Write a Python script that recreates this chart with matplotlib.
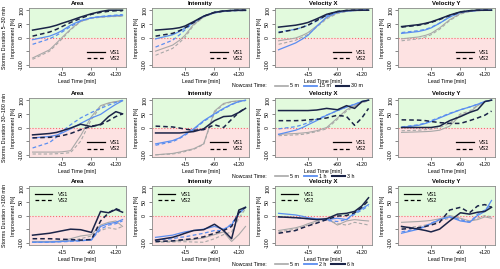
import numpy as np
import matplotlib.pyplot as plt
from matplotlib.lines import Line2D

plt.rcParams['font.family'] = ['Liberation Sans', 'DejaVu Sans']

lead = [0, 5, 10, 15, 25, 40, 60, 80, 100, 120, 140]

# each panel: [short VS1, short VS2, mid VS1, mid VS2, long VS1, long VS2]
r1_area = [[-75, -45, -20, 0, 30, 60, 72, 75, 77, 78, 79],
           [-80, -50, -25, -5, 28, 58, 70, 74, 76, 77, 78],
           [-8, 5, 15, 25, 45, 62, 72, 76, 78, 80, 82],
           [-25, -5, 8, 20, 40, 60, 72, 77, 80, 82, 84],
           [27, 38, 45, 52, 62, 75, 87, 95, 100, 100, 100],
           [5, 20, 30, 40, 55, 70, 85, 92, 96, 98, 98]]
r1_int = [[-50, -28, -10, 8, 48, 75, 90, 95, 98, 98, 98],
          [-65, -40, -18, 0, 45, 75, 90, 95, 97, 98, 98],
          [-5, 10, 22, 35, 55, 78, 92, 97, 99, 99, 99],
          [-35, -10, 10, 28, 55, 78, 90, 96, 98, 99, 99],
          [27, 32, 36, 42, 58, 78, 92, 97, 99, 100, 100],
          [5, 15, 25, 35, 55, 78, 92, 97, 99, 100, 100]]
r1_vx = [[-12, -2, 8, 18, 42, 72, 90, 96, 98, 99, 99],
         [-25, -10, 2, 12, 38, 68, 88, 95, 98, 99, 99],
         [-45, -20, -5, 8, 40, 75, 92, 97, 99, 100, 100],
         [20, 30, 38, 45, 60, 80, 93, 98, 99, 100, 100],
         [38, 45, 50, 55, 68, 85, 95, 99, 100, 100, 100],
         [18, 30, 38, 45, 62, 82, 95, 99, 100, 100, 100]]
r1_vy = [[-5, 2, 8, 15, 35, 65, 88, 95, 98, 99, 99],
         [-12, -5, 2, 10, 30, 62, 86, 95, 98, 99, 99],
         [15, 22, 28, 35, 52, 75, 92, 97, 99, 100, 100],
         [18, 25, 30, 37, 53, 75, 92, 97, 99, 100, 100],
         [40, 47, 52, 57, 68, 82, 94, 98, 100, 100, 100],
         [38, 45, 50, 55, 66, 80, 93, 98, 100, 100, 100]]

r2_area = [[-90, -90, -90, -89, -85, -30, 40, 80, 90, 95, 98],
           [-97, -97, -96, -95, -92, -50, 30, 75, 88, 95, 98],
           [-38, -33, -28, -20, -5, 15, 35, 48, 68, 85, 98],
           [-75, -55, -35, -15, 10, 35, 55, 70, 82, 92, 100],
           [-27, -22, -18, -12, -2, 12, 3, 12, 40, 58, 50],
           [-38, -36, -33, -30, -22, -8, 5, 10, 25, 40, 50]]
r2_int = [[-100, -95, -90, -85, -78, -60, 60, 88, 95, 98, 99],
          [-100, -97, -93, -88, -80, -62, 55, 85, 94, 97, 99],
          [-60, -48, -38, -25, -5, 25, 50, 70, 85, 95, 100],
          [-65, -52, -40, -28, -8, 22, 48, 68, 84, 94, 99],
          [-20, -20, -20, -18, -15, -5, 25, 40, 42, 55, 70],
          [5, 2, -2, -6, -10, -8, 10, 0, 30, 55, 72]]
r2_vx = [[-25, -22, -20, -18, -12, 0, 35, 65, 80, 92, 100],
         [-30, -27, -25, -22, -15, -5, 30, 60, 78, 90, 98],
         [-25, -10, 0, 10, 25, 45, 62, 75, 85, 95, 100],
         [-5, 3, 10, 18, 30, 45, 62, 75, 85, 95, 100],
         [62, 62, 62, 62, 64, 70, 65, 80, 70, 95, 100],
         [25, 25, 26, 28, 30, 35, 45, 40, 8, 35, 70]]
r2_vy = [[-18, -16, -15, -14, -10, 5, 45, 55, 80, 95, 100],
         [-12, -10, -8, -6, 0, 15, 50, 60, 82, 95, 100],
         [0, 8, 15, 22, 35, 50, 65, 75, 85, 95, 100],
         [2, 10, 17, 25, 37, 52, 65, 75, 85, 95, 100],
         [0, 0, 0, 0, 5, 25, 40, 55, 65, 95, 100],
         [28, 27, 25, 22, 18, 15, 15, 25, 35, 45, 60]]

r3_area = [[-95, -95, -94, -92, -85, -75, -70, -35, -25, -20, -40],
           [-98, -97, -96, -95, -92, -85, -75, -55, -45, -50, -40],
           [-98, -97, -96, -95, -93, -92, -90, -40, -30, -25, -15],
           [-98, -98, -97, -96, -95, -93, -88, -50, -35, -30, -20],
           [-72, -65, -60, -56, -50, -52, -62, 15, 10, 22, 12],
           [-85, -85, -86, -87, -88, -90, -88, -20, 10, 25, 15]]
r3_int = [[-96, -94, -92, -90, -88, -82, -70, -60, -95, -70, -40],
          [-98, -97, -96, -96, -97, -98, -85, -70, -60, -10, 25],
          [-80, -72, -65, -60, -55, -50, -40, -50, -35, 10, 30],
          [-90, -85, -80, -78, -72, -65, -55, -55, -30, 5, 30],
          [-90, -80, -72, -65, -55, -52, -32, -55, -85, 20, 30],
          [-95, -93, -90, -88, -85, -78, -65, -55, -40, 10, 30]]
r3_vx = [[-55, -45, -38, -30, -20, -10, -35, -20, -15, -18, -20],
         [-60, -50, -42, -35, -25, -15, -30, -35, -25, -30, -35],
         [8, 2, -3, -8, -12, -15, -10, -15, 10, 25, 40],
         [-5, -8, -10, -12, -14, -18, -22, -15, 5, 20, 35],
         [-5, -8, -10, -12, -15, -12, 5, 8, 15, 35, 65],
         [-65, -55, -45, -38, -28, -15, -2, 0, 10, 30, 55]]
r3_vy = [[-25, -22, -20, -18, -12, 0, -10, -20, -15, -5, -10],
         [-45, -40, -35, -30, -20, -10, -15, -22, -10, 0, -5],
         [-65, -50, -40, -30, -15, -5, -20, -25, 0, 15, 55],
         [-60, -48, -38, -28, -15, -5, -15, -25, 5, 20, 40],
         [-40, -50, -55, -60, -50, -20, 10, 5, 12, 15, 30],
         [-50, -45, -40, -35, -25, 20, 30, 10, 35, 40, 30]]

titles = ['Area', 'Intensity', 'Velocity X', 'Velocity Y']
row_labels = ['Storms Duration 5\u201330 min', 'Storms Duration 30\u2013180 min',
              'Storms Duration >180 min']
nowcast_labels = [['5 m', '15 m', '30 m'], ['5 m', '1 h', '3 h'], ['5 m', '2 h', '6 h']]
rows = [[r1_area, r1_int, r1_vx, r1_vy],
        [r2_area, r2_int, r2_vx, r2_vy],
        [r3_area, r3_int, r3_vx, r3_vy]]

colors = ['#a8a8a8', '#5b8ef0', '#1b2448']
widths = [0.8, 0.9, 1.1]
fs = 3.8


def fwd(x):
    x = np.asarray(x, dtype=float)
    return np.sign(x) * np.sqrt(np.abs(x))


def inv(x):
    x = np.asarray(x, dtype=float)
    return np.sign(x) * x ** 2


fig = plt.figure(figsize=(5, 2.69), dpi=100)
lefts = [29, 152, 275, 398]
bottoms = [67, 157, 245]
W, H = 97, 59

for r in range(3):
    for c in range(4):
        ax = fig.add_axes([lefts[c] / 500, 1 - bottoms[r] / 269, W / 500, H / 269])
        ax.axhspan(0, 120, color='#e2fadd', lw=0)
        ax.axhspan(-120, 0, color='#fde2e2', lw=0)
        ax.axhline(0, color='#f07070', ls=':', lw=0.8)
        data = rows[r][c]
        for k in range(3):
            ax.plot(lead, data[2 * k], color=colors[k], lw=widths[k])
            ax.plot(lead, data[2 * k + 1], color=colors[k], lw=widths[k], ls=(0, (3, 2)))
        ax.set_xscale('function', functions=(fwd, inv))
        ax.set_xlim(-0.22, 151)
        ax.set_ylim(-108, 108)
        ax.set_xticks([15, 60, 120])
        ax.set_xticklabels(['+15', '+60', '+120'], fontsize=fs)
        ax.set_yticks([-100, -50, 0, 50, 100])
        ax.set_yticklabels(['-100', '', '0', '50', '100'], fontsize=fs,
                           rotation=90, va='center')
        ax.tick_params(length=2, width=0.5, pad=1.5, color='#555555')
        for s in ax.spines.values():
            s.set_color('#8a8a8a')
            s.set_linewidth(0.6)
        ax.set_title(titles[c], fontsize=4.3, fontweight='bold', pad=2)
        ax.set_xlabel('Lead Time [min]', fontsize=fs, labelpad=1.5)
        ax.set_ylabel('Improvement [%]', fontsize=fs, labelpad=2)
        h = [Line2D([], [], color='black', lw=0.9),
             Line2D([], [], color='black', lw=0.9, ls=(0, (3, 2)))]
        ax.legend(h, ['VS1', 'VS2'], loc='lower right' if r < 2 else 'upper left',
                  frameon=False, fontsize=4, handlelength=3.2, handletextpad=1.0,
                  labelspacing=0.3, borderaxespad=0.6)
    # row label and nowcast time legend
    ymid = 1 - (bottoms[r] - H / 2) / 269
    fig.text(5 / 500, ymid, row_labels[r], rotation=90, fontsize=3.9,
             ha='center', va='center')
    yleg = 1 - (bottoms[r] + 19) / 269
    fig.text(232 / 500, yleg, 'Nowcast Time:', fontsize=fs, va='center')
    hh = [Line2D([], [], color=colors[k], lw=widths[k] + 0.4) for k in range(3)]
    fig.legend(hh, nowcast_labels[r], loc='center left', ncol=3,
               bbox_to_anchor=(275 / 500, yleg), frameon=False, fontsize=fs,
               handlelength=2.5, handletextpad=0.4, columnspacing=0.9,
               borderaxespad=0, borderpad=0)

fig.savefig('out.png', dpi=100)
